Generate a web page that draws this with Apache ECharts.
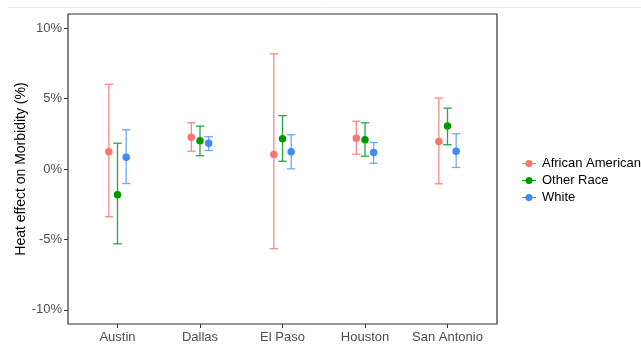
<!DOCTYPE html>
<html>
<head>
<meta charset="utf-8">
<script src="https://cdn.jsdelivr.net/npm/echarts@6/dist/echarts.min.js"></script>
<style>
  html, body { margin: 0; padding: 0; background: #fff; }
  #chart { width: 641px; height: 345px; }
</style>
</head>
<body>
<div id="chart"></div>
<script>
// Cities on the x axis
const cities = ['Austin', 'Dallas', 'El Paso', 'Houston', 'San Antonio'];
const groups = ['African American', 'Other Race', 'White'];

// Estimated heat effect (%) and 95% interval bounds per group
const africanAmericanEst = [1.22, 2.26, 1.03, 2.19, 1.95];
const africanAmericanLow = [-3.39, 1.26, -5.66, 1.05, -1.05];
const africanAmericanHigh = [6.01, 3.28, 8.17, 3.39, 5.03];

const otherRaceEst = [-1.83, 2.00, 2.14, 2.07, 3.06];
const otherRaceLow = [-5.31, 0.94, 0.55, 0.91, 1.72];
const otherRaceHigh = [1.83, 3.04, 3.79, 3.28, 4.32];

const whiteEst = [0.84, 1.83, 1.22, 1.17, 1.26];
const whiteLow = [-1.03, 1.31, 0.01, 0.41, 0.11];
const whiteHigh = [2.78, 2.30, 2.43, 1.88, 2.50];

const yTicks = [-10, -5, 0, 5, 10];

const pointColors = ['#F8766D', '#009A00', '#3D8BF5'];
const barColors = ['#F98A83', '#22A845', '#6FA6FF'];
const dodge = [-0.105, 0, 0.105];

const seriesData = [
  [africanAmericanEst, africanAmericanLow, africanAmericanHigh],
  [otherRaceEst, otherRaceLow, otherRaceHigh],
  [whiteEst, whiteLow, whiteHigh]
];

const series = [];
groups.forEach((g, gi) => {
  const [est, lo, hi] = seriesData[gi];
  // whiskers with caps
  series.push({
    type: 'custom',
    name: g + ' interval',
    silent: true,
    z: 2,
    data: cities.map((c, i) => [i + 1 + dodge[gi], lo[i], hi[i]]),
    encode: { x: 0, y: [1, 2] },
    renderItem: function (params, api) {
      const x = api.value(0);
      const pLo = api.coord([x, api.value(1)]);
      const pHi = api.coord([x, api.value(2)]);
      const half = 4.2;
      const style = { stroke: barColors[gi], lineWidth: 1.3, fill: null };
      return {
        type: 'group',
        children: [
          { type: 'line', shape: { x1: pLo[0], y1: pLo[1], x2: pHi[0], y2: pHi[1] }, style: style },
          { type: 'line', shape: { x1: pLo[0] - half, y1: pLo[1], x2: pLo[0] + half, y2: pLo[1] }, style: style },
          { type: 'line', shape: { x1: pHi[0] - half, y1: pHi[1], x2: pHi[0] + half, y2: pHi[1] }, style: style }
        ]
      };
    }
  });
  // point estimates
  series.push({
    type: 'scatter',
    name: g,
    z: 3,
    symbol: 'circle',
    symbolSize: 7.5,
    itemStyle: { color: pointColors[gi], opacity: 1 },
    data: cities.map((c, i) => [i + 1 + dodge[gi], est[i]])
  });
});

const legendIcon = 'path://M0,3 L14,3 L14,4 L0,4 Z M3.5,3.5 A3.5,3.5 0 1 1 10.5,3.5 A3.5,3.5 0 1 1 3.5,3.5 Z';

const chart = echarts.init(document.getElementById('chart'), null, { renderer: 'canvas' });
chart.setOption({
  animation: false,
  backgroundColor: '#ffffff',
  textStyle: { fontFamily: 'Liberation Sans, Arial, sans-serif' },
  grid: {
    left: 68, right: 144, top: 14, bottom: 21,
    show: true, borderColor: '#333333', borderWidth: 1.2, backgroundColor: '#ffffff'
  },
  xAxis: {
    type: 'value',
    min: 0.4,
    max: 5.6,
    splitLine: { show: false },
    axisLine: { show: false, onZero: false },
    axisTick: { show: true, length: 4, lineStyle: { color: '#333333' }, customValues: [1, 2, 3, 4, 5] },
    axisLabel: {
      customValues: [1, 2, 3, 4, 5],
      color: '#4D4D4D',
      fontSize: 13,
      margin: 7,
      formatter: v => cities[Math.round(v) - 1] || ''
    }
  },
  yAxis: {
    type: 'value',
    min: -11,
    max: 11,
    name: 'Heat effect on Morbidity (%)',
    nameLocation: 'middle',
    nameRotate: 90,
    nameGap: 40,
    nameMoveOverlap: false,
    nameTextStyle: { color: '#000000', fontSize: 14 },
    splitLine: { show: false },
    axisLine: { show: false, onZero: false },
    axisTick: { show: true, length: 4, lineStyle: { color: '#333333' }, customValues: yTicks },
    axisLabel: {
      customValues: yTicks,
      color: '#4D4D4D',
      fontSize: 13,
      margin: 6,
      formatter: v => v + '%'
    }
  },
  legend: {
    orient: 'vertical',
    left: 517,
    top: 152,
    itemWidth: 14,
    itemHeight: 7,
    itemGap: 4,
    icon: legendIcon,
    data: groups,
    textStyle: { color: '#000000', fontSize: 13, padding: [0, 0, 0, 1] },
    selectedMode: false
  },
  graphic: [
    { type: 'line', shape: { x1: 8, y1: 7.5, x2: 641, y2: 7.5 }, style: { stroke: '#E8E8E8', lineWidth: 1 }, silent: true }
  ],
  series: series
});
</script>
</body>
</html>
